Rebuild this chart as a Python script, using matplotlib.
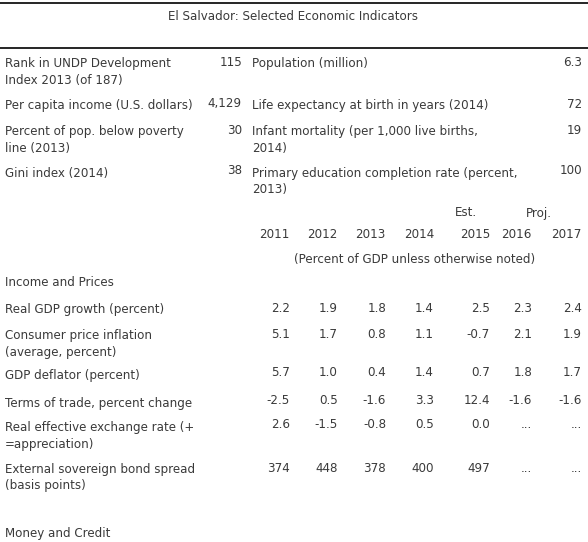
import matplotlib.pyplot as plt

# header block: (label, value) pairs, left and right column
left_labels = ["Rank in UNDP Development\nIndex 2013 (of 187)",
               "Per capita income (U.S. dollars)",
               "Percent of pop. below poverty\nline (2013)",
               "Gini index (2014)"]
left_values = ["115", "4,129", "30", "38"]
right_labels = ["Population (million)",
                "Life expectancy at birth in years (2014)",
                "Infant mortality (per 1,000 live births,\n2014)",
                "Primary education completion rate (percent,\n2013)"]
right_values = ["6.3", "72", "19", "100"]

years = ["2011", "2012", "2013", "2014", "2015", "2016", "2017"]
year_notes = ["", "", "", "", "Est.", "Proj.", ""]

row_labels = ["Real GDP growth (percent)",
              "Consumer price inflation\n(average, percent)",
              "GDP deflator (percent)",
              "Terms of trade, percent change",
              "Real effective exchange rate (+\n=appreciation)",
              "External sovereign bond spread\n(basis points)"]
gdp_growth = [2.2, 1.9, 1.8, 1.4, 2.5, 2.3, 2.4]
cpi = [5.1, 1.7, 0.8, 1.1, -0.7, 2.1, 1.9]
deflator = [5.7, 1.0, 0.4, 1.4, 0.7, 1.8, 1.7]
terms_trade = [-2.5, 0.5, -1.6, 3.3, 12.4, -1.6, -1.6]
reer = [2.6, -1.5, -0.8, 0.5, 0.0, None, None]
bond_spread = [374, 448, 378, 400, 497, None, None]

txt = "#3a3a3a"
fs = 8.55
fam = "DejaVu Sans"

fig = plt.figure(figsize=(5.88, 5.42), dpi=100)
ax = fig.add_axes([0, 0, 1, 1])
ax.set_xlim(0, 588)
ax.set_ylim(542, 0)
ax.axis("off")

def put(x, y, s, ha="left"):
    ax.text(x, y, s, ha=ha, va="top", fontsize=fs, color=txt,
            family=fam, linespacing=1.39)

ax.plot([0, 588], [3, 3], color="black", lw=1.2)
ax.plot([0, 588], [48, 48], color="black", lw=1.2)
put(293, 10.5, "El Salvador: Selected Economic Indicators", ha="center")

# label top, value top for each header row
top_y = [57.5, 99.5, 125.5, 166.5]
val_y = [55.5, 97.5, 123.5, 163.5]
for y, vy, ll, lv, rl, rv in zip(top_y, val_y, left_labels, left_values,
                                  right_labels, right_values):
    put(5, y, ll)
    put(242, vy, lv, ha="right")
    put(252, y, rl)
    put(582, vy, rv, ha="right")

col_x = [290, 338, 386, 434, 490, 532, 582]
note_x = {"Est.": 477, "Proj.": 552}
for n in year_notes:
    if n:
        put(note_x[n], 206.5, n, ha="right")
for x, yr in zip(col_x, years):
    put(x, 227.5, yr, ha="right")
put(415, 253.5, "(Percent of GDP unless otherwise noted)", ha="center")
put(5, 276.5, "Income and Prices")

series = [gdp_growth, cpi, deflator, terms_trade, reer, bond_spread]
row_y = [302.5, 329.5, 369, 396.5, 421.5, 462.5]
row_vy = [301.5, 327.5, 365.5, 394.5, 418.5, 461.5]
for y, vy, lab, vals in zip(row_y, row_vy, row_labels, series):
    put(5, y, lab)
    for x, v in zip(col_x, vals):
        if v is None:
            s = "..."
        elif isinstance(v, int):
            s = str(v)
        else:
            s = "%.1f" % v
        put(x, vy, s, ha="right")

put(5, 526.5, "Money and Credit")

plt.savefig("out.png", dpi=100)
